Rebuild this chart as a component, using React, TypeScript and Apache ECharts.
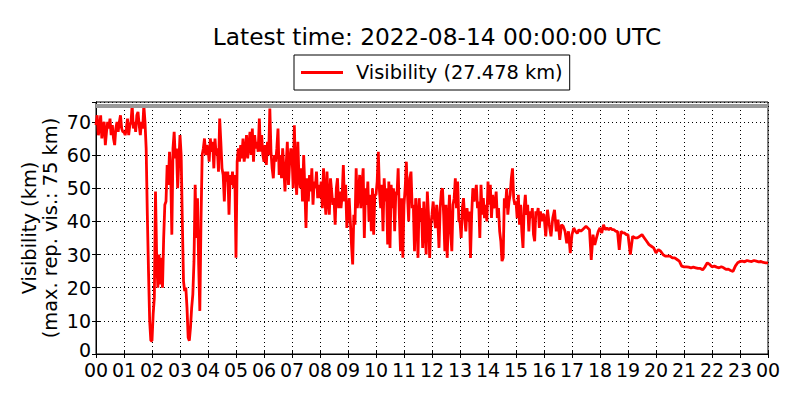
import React, { useEffect, useRef } from "react";
import * as echarts from "echarts";

const TITLE = "Latest time: 2022-08-14 00:00:00 UTC";
const SERIES_NAME = "Visibility (27.478 km)";
const Y_NAME_1 = "Visibility (km)";
const Y_NAME_2 = "(max. rep. vis.: 75 km)";
const MAX_REP_VIS = 75;
const LAST_VALUE = 27.478;

// visibility (km), evenly spaced samples within each hour
const h00 = [69, 72, 66, 68, 72, 65, 69, 70, 63, 67, 70, 68, 71, 66, 69, 65, 63, 68, 70, 67, 70, 72, 68, 67];
const h01 = [67, 66, 68, 71, 66, 69, 70, 75, 68, 70, 67, 72, 73, 69, 66, 70, 68, 75, 70, 62, 42, 25, 10, 4];
const h02 = [4, 12, 17, 49, 29, 20, 30, 21, 29, 20, 35, 45, 46, 57, 51, 61, 55, 36, 62, 67, 59, 62, 50, 58];
const h03 = [66, 60, 40, 22, 19, 20, 14, 5, 4, 8, 14, 18, 28, 51, 35, 47, 27, 13, 40, 60, 62, 65, 60, 63];
const h04 = [62, 58, 65, 61, 64, 56, 65, 60, 62, 55, 71, 64, 56, 54, 46, 55, 52, 55, 42, 54, 51, 55, 50, 54];
const h05 = [29, 58, 62, 58, 63, 59, 65, 58, 61, 66, 59, 63, 67, 60, 68, 58, 66, 62, 64, 61, 71, 61, 66, 60];
const h06 = [58, 63, 57, 64, 60, 74, 61, 56, 53, 60, 58, 62, 68, 54, 60, 53, 62, 56, 49, 57, 64, 51, 58, 62];
const h07 = [60, 50, 69, 55, 48, 64, 53, 50, 56, 46, 60, 50, 38, 53, 46, 54, 49, 56, 45, 52, 50, 55, 47, 51];
const h08 = [47, 52, 44, 56, 48, 42, 55, 46, 42, 53, 49, 45, 47, 39, 50, 53, 44, 49, 44, 48, 57, 46, 51, 38];
const h09 = [43, 47, 40, 33, 27, 42, 39, 56, 44, 48, 54, 44, 51, 56, 35, 50, 45, 52, 40, 48, 37, 50, 36, 48];
const h10 = [48, 52, 61, 49, 44, 51, 37, 53, 46, 50, 33, 52, 32, 51, 44, 50, 37, 49, 48, 56, 42, 31, 47, 29];
const h11 = [45, 50, 58, 48, 40, 53, 55, 44, 45, 31, 47, 42, 29, 47, 40, 44, 32, 46, 38, 30, 49, 42, 29, 39];
const h12 = [42, 46, 41, 38, 45, 40, 32, 44, 49, 50, 42, 31, 45, 29, 40, 48, 37, 31, 45, 47, 53, 44, 52, 40];
const h13 = [40, 35, 44, 47, 41, 37, 44, 40, 43, 29, 42, 50, 46, 48, 51, 44, 46, 35, 51, 42, 47, 41, 45, 40];
const h14 = [52, 45, 51, 41, 48, 44, 45, 49, 41, 44, 37, 34, 28, 29, 47, 44, 50, 42, 46, 48, 53, 56, 47, 45];
const h15 = [46, 41, 48, 39, 45, 37, 32, 44, 48, 42, 45, 37, 43, 41, 44, 36, 34, 43, 42, 44, 38, 43, 40, 42];
const h16 = [42, 35.5, 43.5, 39, 35.5, 41, 43.5, 37, 40.5, 34.4, 39, 38.5, 37, 33.4, 37, 30.4];
const h17 = [36, 38, 37, 36.4, 37.5, 37, 37.5, 38, 38.5, 38, 37.5, 28.4, 36, 32.9, 35, 37];
const h18 = [38, 36.5, 39, 37.5, 38, 37.5, 38, 37.5, 37.5, 37, 37, 31.4, 37, 36.5, 36.5, 36];
const h19 = [36, 30, 35.5, 35, 35, 35.5, 36, 35, 34, 33, 32.5, 32];
const h20 = [30.5, 31.5, 31, 30, 29.5, 29.5, 29.5, 29, 29, 28.5, 28, 26.5];
const h21 = [26.3, 26.3, 26.2, 26, 26.2, 26, 25.8, 25.8, 25.4, 26.3, 27.5, 27];
const h22 = [26.3, 26.5, 26.2, 26, 26.3, 26, 25.5, 25.6, 25.2, 24.9, 26.5, 27.5];
const h23 = [27.9, 28, 27.8, 28.2, 28, 27.9, 28.2, 28, 27.8, 27.9, 27.6, 27.5];

const hours = [h00, h01, h02, h03, h04, h05, h06, h07, h08, h09, h10, h11, h12, h13, h14, h15, h16, h17, h18, h19, h20, h21, h22, h23];

const FONT = "DejaVu Sans";
const FS = 19.4;

export default function App() {
  const ref = useRef<HTMLDivElement>(null);

  useEffect(() => {
    if (!ref.current) return;
    const chart = echarts.init(ref.current, undefined, { renderer: "svg" });

    const data: [number, number][] = [];
    hours.forEach((arr, h) => {
      arr.forEach((v, i) => data.push([h + i / arr.length, v]));
    });
    data.push([24, LAST_VALUE]);

    const fmt = (v: number) => String(Math.round(v) % 24).padStart(2, "0");

    const axisCommon = {
      axisLine: { show: true, lineStyle: { color: "#000", width: 1 } },
      axisTick: { show: true, inside: true, length: 4, lineStyle: { color: "#000" } },
    };

    chart.setOption({
      animation: false,
      backgroundColor: "#fff",
      title: {
        text: TITLE,
        left: 432,
        top: 20,
        textAlign: "center",
        textStyle: { fontFamily: FONT, fontSize: 23.3, fontWeight: "normal", color: "#000" },
      },
      legend: {
        left: 294,
        top: 55,
        padding: [8, 7, 8, 7],
        itemWidth: 42,
        itemHeight: 3,
        icon: "rect",
        borderColor: "#000",
        borderWidth: 1,
        borderRadius: 0,
        textStyle: { fontFamily: FONT, fontSize: FS, color: "#000", padding: [0, 0, 0, 8] },
        data: [SERIES_NAME],
      },
      grid: { left: 96, right: 32, top: 102, bottom: 46, show: true, borderColor: "#000", borderWidth: 1 },
      xAxis: [
        {
          type: "value",
          min: 0,
          max: 24,
          interval: 1,
          ...axisCommon,
          axisLabel: { formatter: fmt, fontFamily: FONT, fontSize: 19, lineHeight: 12, color: "#000", margin: 10, hideOverlap: false },
          splitLine: { show: true, lineStyle: { color: "#000", type: [1, 3], width: 1 } },
        },
        {
          type: "value",
          position: "top",
          min: 0,
          max: 24,
          interval: 1,
          ...axisCommon,
          axisLabel: { show: false },
          splitLine: { show: false },
        },
      ],
      yAxis: [
        {
          type: "value",
          min: 0,
          max: 76,
          interval: 10,
          ...axisCommon,
          axisLabel: {
            fontFamily: FONT,
            fontSize: 19,
            lineHeight: 12,
            color: "#000",
            margin: 5,
            showMaxLabel: false,
            formatter: (v: number) => (v === 0 ? "{z|0}" : String(v)),
            rich: { z: { fontFamily: FONT, fontSize: 19, lineHeight: 12, color: "#000", padding: [0, 0, 8, 0] } },
          },
          splitLine: { show: true, lineStyle: { color: "#000", type: [1, 3], width: 1 } },
        },
        {
          type: "value",
          position: "right",
          min: 0,
          max: 76,
          interval: 10,
          ...axisCommon,
          axisLabel: { show: false },
          splitLine: { show: false },
        },
      ],
      graphic: [
        {
          type: "text",
          x: 29,
          y: 228,
          rotation: Math.PI / 2,
          style: { text: Y_NAME_1, fontFamily: FONT, fontSize: FS, fill: "#000", align: "center", verticalAlign: "middle" },
        },
        {
          type: "text",
          x: 50,
          y: 228,
          rotation: Math.PI / 2,
          style: { text: Y_NAME_2, fontFamily: FONT, fontSize: FS, fill: "#000", align: "center", verticalAlign: "middle" },
        },
      ],
      series: [
        {
          name: SERIES_NAME,
          type: "line",
          data,
          showSymbol: false,
          symbol: "none",
          lineStyle: { color: "#ff0000", width: 2.8 },
          itemStyle: { color: "#ff0000" },
          markLine: {
            silent: true,
            symbol: "none",
            label: { show: false },
            lineStyle: { color: "#999", width: 4, type: "solid" },
            data: [{ yAxis: MAX_REP_VIS }],
          },
        },
      ],
    });

    return () => chart.dispose();
  }, []);

  return <div ref={ref} style={{ position: "fixed", left: 0, top: 0, width: 800, height: 400 }} />;
}
